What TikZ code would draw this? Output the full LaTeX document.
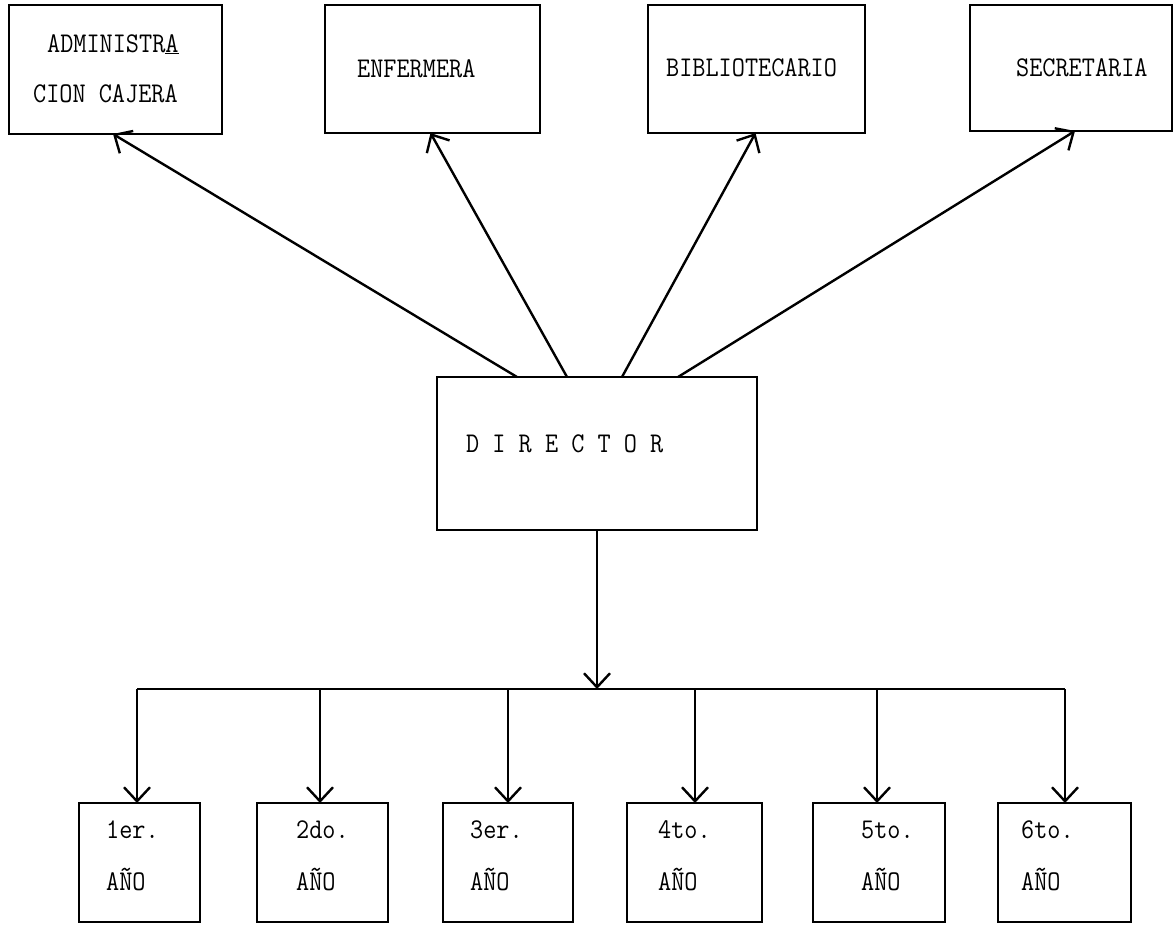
\documentclass[tikz,border=0pt]{standalone}
\usepackage{fontspec}
\usepackage{graphicx}
\usetikzlibrary{arrows.meta}
% typewriter labels, slightly taller than the stock mono face
\newcommand{\twtext}[1]{\scalebox{1}[1.12]{#1}}
\begin{document}
\begin{tikzpicture}[x=1pt,y=-1pt,
  box/.style={draw,line width=2.8pt,rectangle,inner sep=0pt,outer sep=0pt},
  link/.style={line width=2.4pt},
  arr/.style={line width=2.4pt,-{Straight Barb[length=14pt,width=26pt,line width=2.4pt]}},
  lbl/.style={anchor=base west,inner sep=0pt,
    font=\fontsize{25.5}{30}\selectfont\ttfamily\addfontfeatures{FakeBold=1.5}}]
\useasboundingbox (0,0) rectangle (1174,926);

% staff offices
\node[box,minimum width=213,minimum height=129] (adm) at (115.5,69.5) {};
\node[box,minimum width=215,minimum height=128] (enf) at (432.5,69) {};
\node[box,minimum width=217,minimum height=128] (bib) at (756.5,69) {};
\node[box,minimum width=202,minimum height=126] (sec) at (1071,68) {};

\node[lbl] (admA) at (47,52) {\twtext{ADMINISTR\underline{A}}};
\node[lbl] (admB) at (33,102) {\twtext{CION CAJERA}};
\node[lbl] (enfT) at (357,77) {\twtext{ENFERMERA}};
\node[lbl] (bibT) at (666,76) {\twtext{BIBLIOTECARIO}};
\node[lbl] (secT) at (1016,76) {\twtext{SECRETARIA}};

% director
\node[box,minimum width=320,minimum height=153] (dir) at (597,453.5) {};
\node[lbl] (dirT) at (466,452) {\twtext{D I R E C T O R}};

% grades
\foreach \n/\cx/\w in {1/139.5/121, 2/322.5/131, 3/508/130, 4/694.5/135, 5/879/132, 6/1064.5/133}
  \node[box,minimum width=\w,minimum height=119] (y\n) at (\cx,862.5) {};

\foreach \n/\t/\lx in {1/1er./106, 2/2do./296, 3/3er./470, 4/4to./658, 5/5to./861, 6/6to./1021}{
  \node[lbl] (g\n) at (\lx,838) {\twtext{\t}};
  \node[lbl] (a\n) at (\lx,890) {\twtext{AÑO}};
}

% director to staff
\coordinate (d1) at (517,377);
\coordinate (d2) at (567,377);
\coordinate (d3) at (622,377);
\coordinate (d4) at (678,377);
\draw[arr] (d1) -- ([xshift=-2.5]adm.south);
\draw[arr] (d2) -- ([xshift=-2]enf.south);
\draw[arr] (d3) -- ([xshift=-1]bib.south);
\draw[arr] (d4) -- ([xshift=4]sec.south);

% director to grades
\foreach \n/\bx in {1/137, 2/320, 3/508, 4/695, 5/877, 6/1065}
  \coordinate (b\n) at (\bx,689);
\draw[link] (b1) -- (b6);
\draw[arr] (dir.south) -- (dir.south |- b1);
\foreach \n in {1,...,6}
  \draw[arr] (b\n) -- (b\n |- y\n.north);
\end{tikzpicture}
\end{document}
